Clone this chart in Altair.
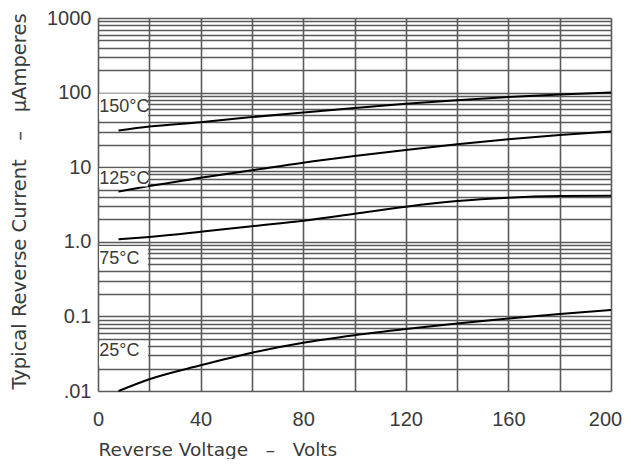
import altair as alt
import pandas as pd

# ---- data ----
VOLTS = [8, 20, 40, 60, 80, 100, 120, 140, 160, 180, 200]
I_150C = [31, 35, 40, 47, 54, 62, 71, 79, 87, 94, 100]
I_125C = [4.7, 5.6, 7.2, 9.1, 11.5, 14.1, 17, 20.3, 23.7, 27, 30]
I_75C = [1.08, 1.16, 1.36, 1.62, 1.92, 2.38, 2.96, 3.52, 3.9, 4.1, 4.15]
I_25C = [0.0100, 0.0144, 0.0221, 0.0326, 0.0443, 0.0558, 0.0676, 0.0803, 0.0938, 0.1077, 0.122]

CURVE_NAMES = ["150°C", "125°C", "75°C", "25°C"]

# curve labels (drawn on a white patch at the left of the grid)
LABEL_TEXT = ["150°C", "125°C", "75°C", "25°C"]
LABEL_X = [0.5, 0.5, 0.5, 0.5]
LABEL_Y = [65, 6.9, 0.593, 0.0344]
PATCH_X0 = [0.45, 0.45, 0.45, 0.45]
PATCH_X1 = [19.45, 19.45, 19.45, 19.45]
PATCH_TOP = [97, 9.6, 0.87, 0.045]
PATCH_BOTTOM = [44, 5.5, 0.45, 0.022]

X_GRID = list(range(0, 201, 20))
X_LABELS = [0, 40, 80, 120, 160, 200]
Y_DECADES = [0.01, 0.1, 1, 10, 100, 1000]
Y_DECADE_LABELS = [".01", "0.1", "1.0", "10", "100", "1000"]
Y_GRID = sorted({round(k * d, 6) for d in Y_DECADES[:-1] for k in range(1, 10)} | {1000})

X_TITLE = "Reverse Voltage\u00a0\u00a0\u00a0–\u00a0\u00a0\u00a0Volts"
Y_TITLE = "Typical Reverse Current\u00a0\u00a0\u00a0–\u00a0\u00a0\u00a0µAmperes"

rows = []
for name, series in zip(CURVE_NAMES, [I_150C, I_125C, I_75C, I_25C]):
    for v, i in zip(VOLTS, series):
        rows.append({"curve": name, "V": v, "I": i})
curves = pd.DataFrame(rows)

labels = pd.DataFrame({
    "text": LABEL_TEXT, "x": LABEL_X, "y": LABEL_Y,
    "x0": PATCH_X0, "x1": PATCH_X1, "top": PATCH_TOP, "bottom": PATCH_BOTTOM,
})

y_label_expr = " : ".join(
    f"datum.value == {v} ? '{t}'" for v, t in zip(Y_DECADES, Y_DECADE_LABELS)
) + " : ''"
x_label_expr = " : ".join(
    f"datum.value == {v} ? '{v}'" for v in X_LABELS
) + " : ''"

FONT = "Liberation Sans"
TITLE_FONT = "DejaVu Sans"
TXT = "#3a3a3a"
GRID = "#5a5a5a"

x_scale = alt.Scale(domain=[0, 200], nice=False, zero=False)
y_scale = alt.Scale(type="log", domain=[0.01, 1000], nice=False)

x_axis = alt.Axis(
    values=X_GRID, labelExpr=x_label_expr, grid=True, gridColor=GRID, gridWidth=1.6,
    gridOpacity=1, domain=False, ticks=False, tickSize=0, labelPadding=28,
    labelBaseline="middle", labelFont=FONT, labelFontSize=20, labelColor=TXT,
    labelOverlap=False, labelFlush=False,
    labelOffset={"condition": {"test": f"datum.value == {X_LABELS[-1]}", "value": -6}, "value": 0},
    title=X_TITLE, titleFont=TITLE_FONT, titleFontSize=18.5,
    titleFontWeight="normal", titleColor=TXT, titleX=0, titleAlign="left",
    titleY=58, titleBaseline="middle",
)
y_axis = alt.Axis(
    values=Y_GRID, labelExpr=y_label_expr, grid=True, gridColor=GRID, gridWidth=1.6,
    gridOpacity=1, domain=False, ticks=False, tickSize=0, labelPadding=7,
    labelFont=FONT, labelFontSize=20, labelColor=TXT, labelOverlap=False,
    labelFlush=False, labelBaseline="middle",
    title=Y_TITLE, titleFont=TITLE_FONT, titleFontSize=19.5,
    titleFontWeight="normal", titleColor=TXT, titleX=-79, titleY=183, titleAngle=-90,
    titleAlign="center", titleBaseline="middle",
)

lines = alt.Chart(curves).mark_line(color="black", strokeWidth=2, interpolate="monotone").encode(
    x=alt.X("V:Q", scale=x_scale, axis=x_axis),
    y=alt.Y("I:Q", scale=y_scale, axis=y_axis),
    detail="curve:N",
)

patches = alt.Chart(labels).mark_rect(color="white").encode(
    x=alt.X("x0:Q", scale=x_scale),
    x2="x1:Q",
    y=alt.Y("top:Q", scale=y_scale),
    y2="bottom:Q",
)

texts = alt.Chart(labels).mark_text(
    align="left", baseline="middle", font=FONT, fontSize=18, color=TXT
).encode(
    x=alt.X("x:Q", scale=x_scale),
    y=alt.Y("y:Q", scale=y_scale),
    text="text:N",
)

chart = alt.layer(lines, patches, texts).properties(
    width=513, height=373,
    autosize=alt.AutoSizeParams(type="none"),
    padding={"left": 90, "top": 10, "right": 12, "bottom": 68},
).configure_view(stroke=None)

chart.save("out.html", embed_options={"renderer": "svg", "actions": False})
